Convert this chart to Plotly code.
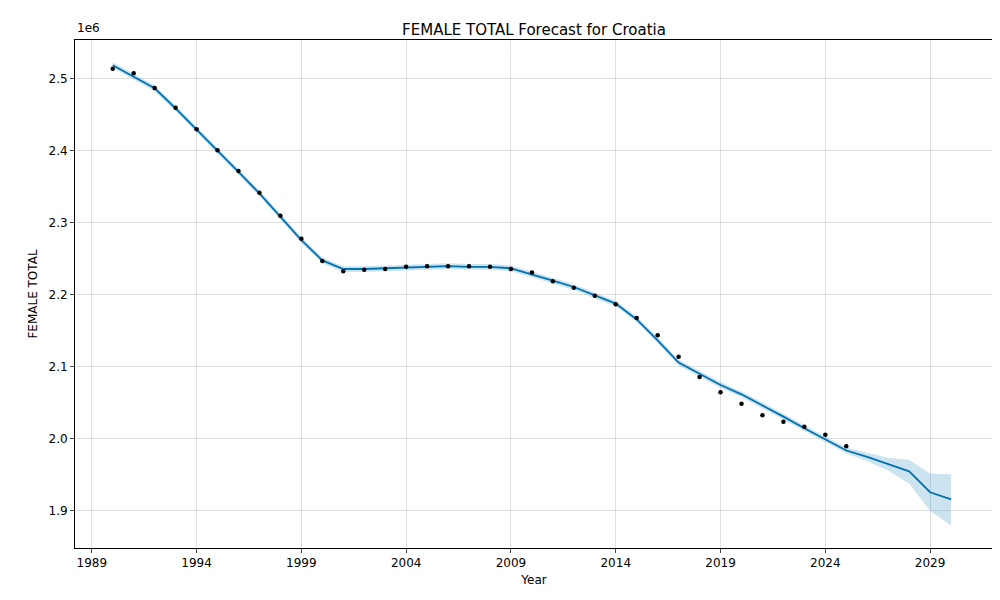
import plotly.graph_objects as go

# observed values (millions)
obs_years = list(range(1990, 2026))
obs_vals = [2.514, 2.508, 2.4875, 2.460, 2.430, 2.401, 2.372, 2.342, 2.310, 2.278,
            2.247, 2.233, 2.235, 2.236, 2.239, 2.240, 2.240, 2.240, 2.239, 2.236,
            2.231, 2.219, 2.210, 2.199, 2.187, 2.168, 2.144, 2.114, 2.086, 2.065,
            2.049, 2.033, 2.024, 2.017, 2.006, 1.990]

# forecast
fc_years = list(range(1990, 2031))
yhat = [2.519, 2.503, 2.487, 2.459, 2.430, 2.400, 2.371, 2.341, 2.309, 2.276,
        2.248, 2.236, 2.236, 2.237, 2.239, 2.240, 2.240, 2.239, 2.239, 2.237,
        2.229, 2.220, 2.211, 2.200, 2.188, 2.166, 2.137, 2.106, 2.090, 2.075,
        2.062, 2.047, 2.031, 2.015, 2.000, 1.984, 1.975, 1.965, 1.955, 1.926, 1.916]
yhat_lower = [v - 0.004 for v in yhat[:36]] + [1.969, 1.956, 1.938, 1.900, 1.880]
yhat_upper = [v + 0.004 for v in yhat[:36]] + [1.981, 1.974, 1.971, 1.952, 1.951]

tick_years = [1989, 1994, 1999, 2004, 2009, 2014, 2019, 2024, 2029]

fig = go.Figure()
fig.add_trace(go.Scatter(x=fc_years, y=yhat_upper, mode="lines",
                         line=dict(width=0), showlegend=False, hoverinfo="skip"))
fig.add_trace(go.Scatter(x=fc_years, y=yhat_lower, mode="lines", fill="tonexty",
                         fillcolor="rgba(0,114,178,0.2)", line=dict(width=0),
                         showlegend=False, hoverinfo="skip"))
fig.add_trace(go.Scatter(x=fc_years, y=yhat, mode="lines",
                         line=dict(color="#0072B2", width=1.8), showlegend=False))
fig.add_trace(go.Scatter(x=obs_years, y=obs_vals, mode="markers",
                         marker=dict(color="black", size=4.5), showlegend=False))

axis_style = dict(showline=True, linecolor="black", linewidth=1, mirror=True,
                  showgrid=True, gridcolor="rgba(0,0,0,0.12)", ticks="outside",
                  ticklen=4, zeroline=False, automargin=False,
                  tickfont=dict(size=12, color="black"))

fig.update_layout(
    width=1000, height=600,
    title=dict(text="FEMALE TOTAL Forecast for Croatia", x=0.526, y=0.973,
               xanchor="center", font=dict(size=15, color="black")),
    plot_bgcolor="white", paper_bgcolor="white",
    font=dict(family="DejaVu Sans", color="black"),
    margin=dict(l=67, r=15, t=32, b=60),
    annotations=[dict(text="1e6", xref="paper", yref="paper", x=0, y=1.005,
                      xanchor="left", yanchor="bottom", showarrow=False,
                      font=dict(size=12))],
)
fig.update_xaxes(axis_style, range=[1988.2, 2032.0], tickvals=tick_years,
                 title=dict(text="Year", font=dict(size=12), standoff=6))
fig.update_yaxes(axis_style, range=[1.8486, 2.554], dtick=0.1, tickformat=".1f",
                 title=dict(text="FEMALE TOTAL", font=dict(size=12), standoff=8))

fig.write_html("out.html")
